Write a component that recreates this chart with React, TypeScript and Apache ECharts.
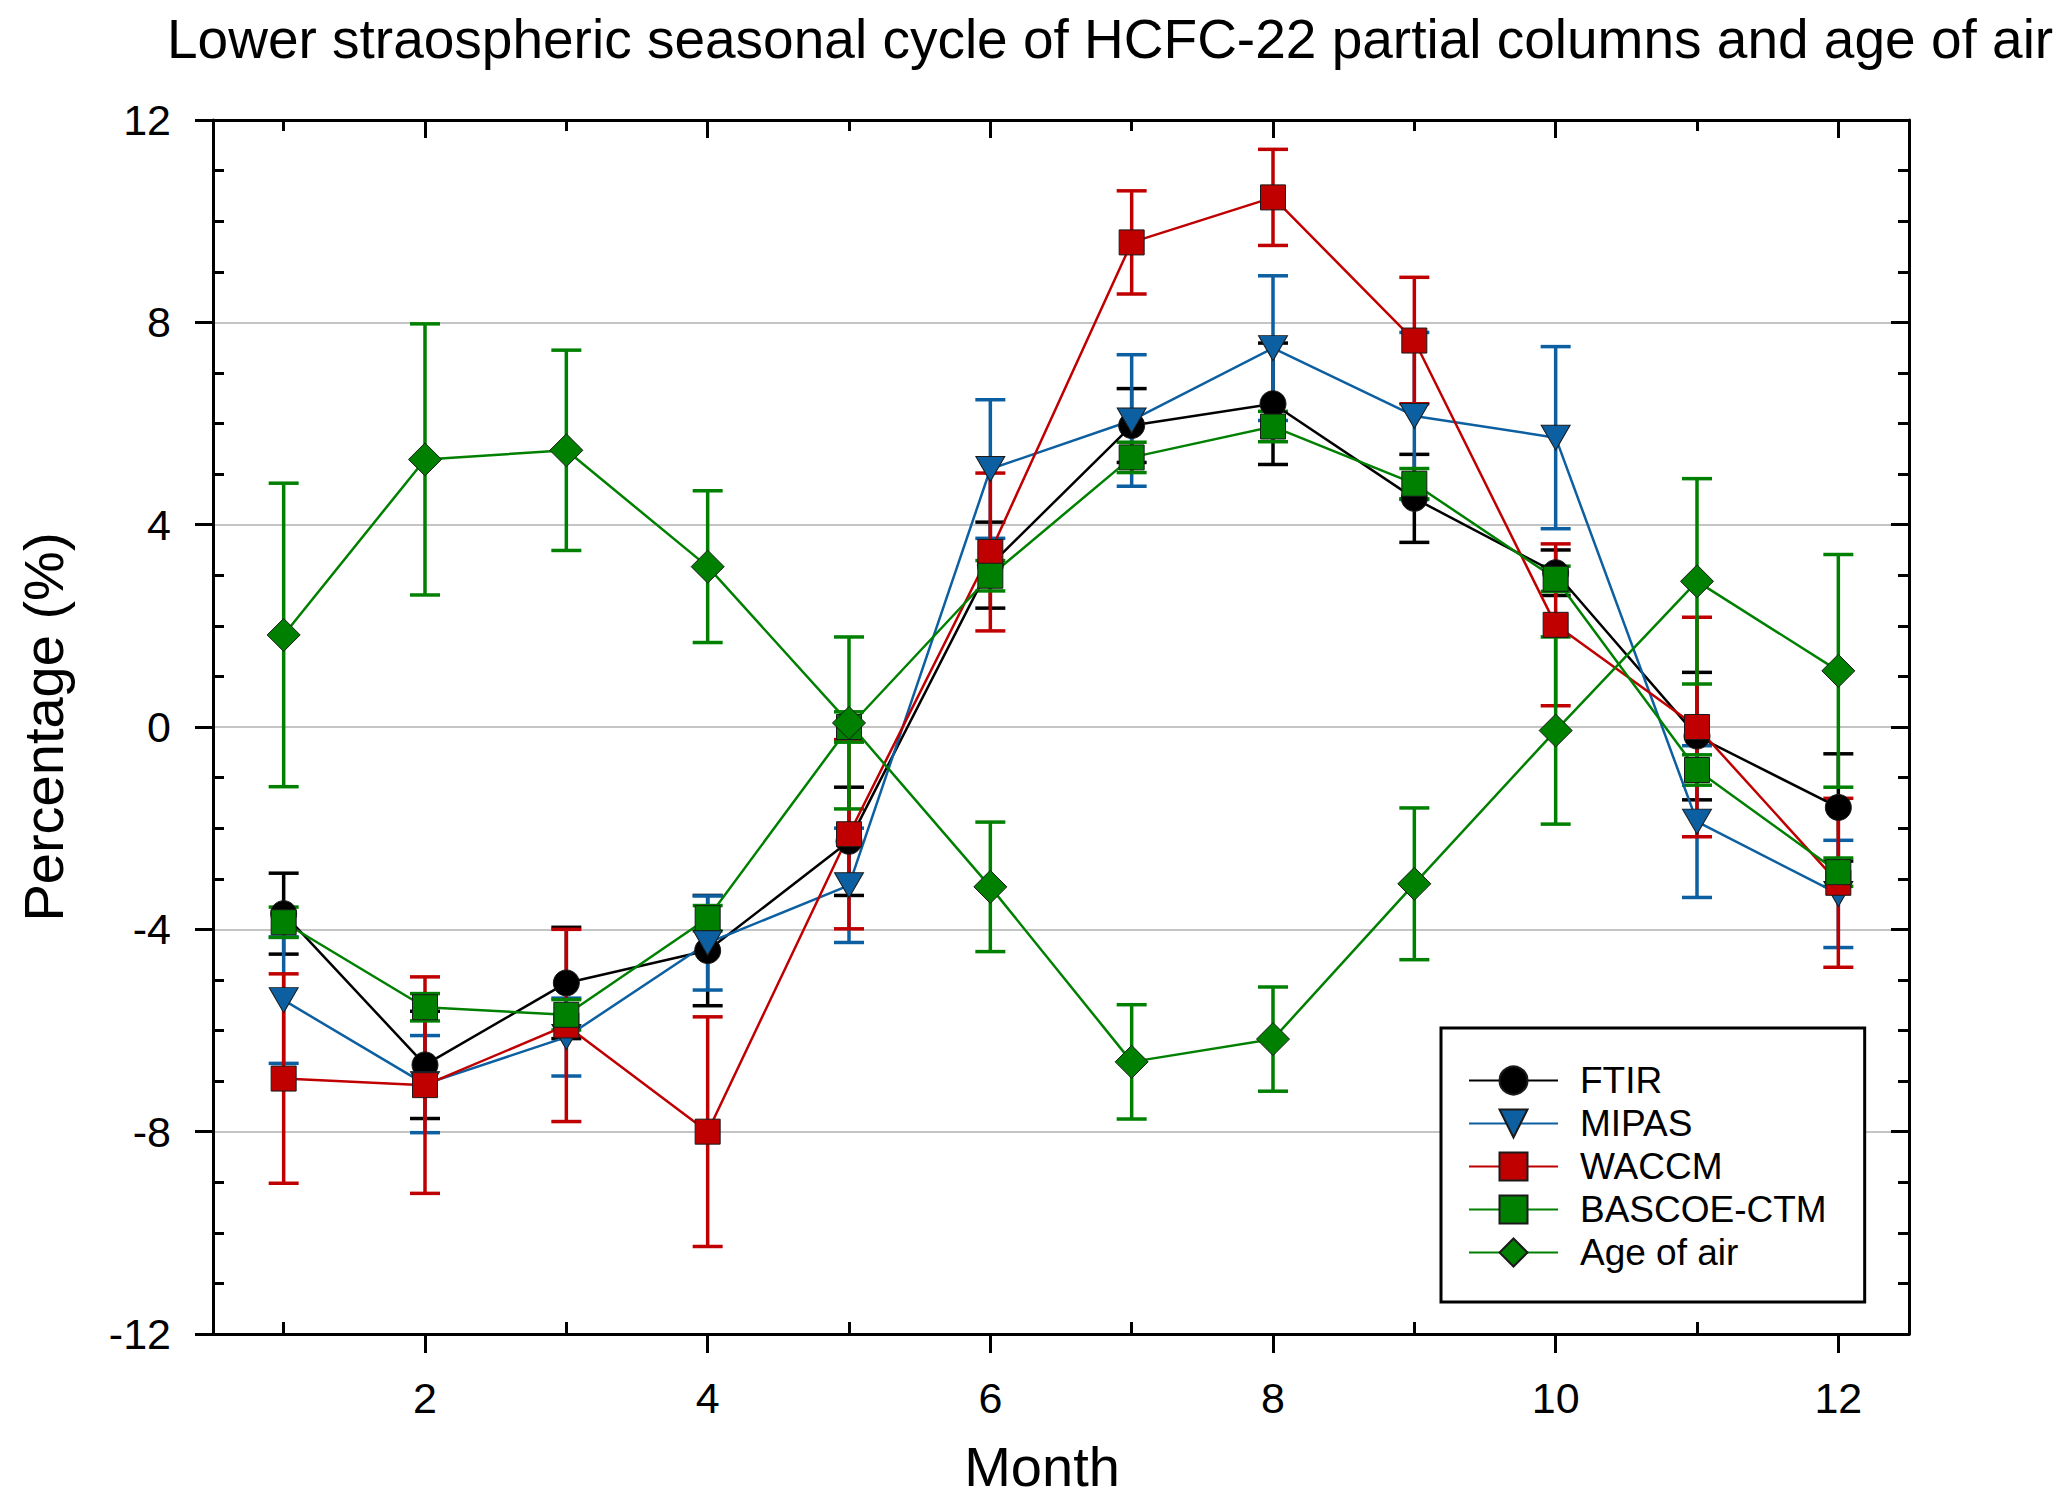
import { useEffect, useRef } from "react";
import * as echarts from "echarts";

const months = [1, 2, 3, 4, 5, 6, 7, 8, 9, 10, 11, 12];

const ftir = [-3.69, -6.68, -5.06, -4.42, -2.26, 3.2, 5.96, 6.39, 4.52, 3.05, -0.18, -1.59];
const ftirErr = [0.8, 1.06, 1.1, 1.09, 1.07, 0.85, 0.73, 1.2, 0.87, 0.45, 1.26, 1.06];

const mipas = [-5.4, -7.06, -6.13, -4.27, -3.13, 5.1, 6.06, 7.49, 6.15, 5.72, -1.87, -3.3];
const mipasErr = [1.25, 0.96, 0.77, 0.93, 1.13, 1.37, 1.3, 1.43, 1.65, 1.8, 1.5, 1.06];

const waccm = [-6.95, -7.08, -5.9, -8.0, -2.12, 3.46, 9.58, 10.47, 7.64, 2.02, 0.0, -3.08];
const waccmErr = [2.07, 2.14, 1.9, 2.27, 1.87, 1.56, 1.02, 0.95, 1.25, 1.6, 2.17, 1.67];

const bascoe = [-3.86, -5.54, -5.69, -3.78, 0.0, 2.99, 5.33, 5.94, 4.81, 2.93, -0.85, -2.87];
const bascoeErr = [0.3, 0.27, 0.3, 0.25, 0.3, 0.3, 0.3, 0.3, 0.3, 0.25, 0.3, 0.28];

const ageOfAir = [1.82, 5.29, 5.47, 3.17, 0.08, -3.16, -6.62, -6.17, -3.1, -0.07, 2.88, 1.11];
const ageOfAirErr = [3.0, 2.68, 1.98, 1.5, 1.7, 1.28, 1.13, 1.03, 1.5, 1.85, 2.03, 2.3];

const majorMonths = [2, 4, 6, 8, 10, 12];
const minorMonths = [1, 3, 5, 7, 9, 11];
const minorPercent = [-11, -10, -9, -7, -6, -5, -3, -2, -1, 1, 2, 3, 5, 6, 7, 9, 10, 11];

const FONT = "'Liberation Sans', Arial, sans-serif";

const errorRender = (color: string) => (params: any, api: any) => {
  const x = api.value(0);
  const top = api.coord([x, api.value(2)]);
  const bot = api.coord([x, api.value(1)]);
  const hw = 15;
  const style = { stroke: color, lineWidth: 3.5, fill: "none" };
  return {
    type: "group",
    children: [
      { type: "line", shape: { x1: top[0], y1: top[1], x2: bot[0], y2: bot[1] }, style },
      { type: "line", shape: { x1: top[0] - hw, y1: top[1], x2: top[0] + hw, y2: top[1] }, style },
      { type: "line", shape: { x1: bot[0] - hw, y1: bot[1], x2: bot[0] + hw, y2: bot[1] }, style },
    ],
  };
};

const App = () => {
  const chartRef = useRef<HTMLDivElement>(null);

  useEffect(() => {
    document.body.style.margin = "0";
    document.body.style.overflow = "hidden";
    if (!chartRef.current) return;
    const chart = echarts.init(chartRef.current, null, { renderer: "svg" });

    const defs = [
      { name: "FTIR", vals: ftir, errs: ftirErr, color: "#000000", symbol: "circle", size: 26, rotate: 0 },
      { name: "MIPAS", vals: mipas, errs: mipasErr, color: "#0c5fa0", symbol: "triangle", size: [29, 25], rotate: 180 },
      { name: "WACCM", vals: waccm, errs: waccmErr, color: "#c00000", symbol: "rect", size: 25, rotate: 0 },
      { name: "BASCOE-CTM", vals: bascoe, errs: bascoeErr, color: "#008000", symbol: "rect", size: 25, rotate: 0 },
      { name: "Age of air", vals: ageOfAir, errs: ageOfAirErr, color: "#008000", symbol: "diamond", size: 33, rotate: 0 },
    ];

    const series: any[] = [];
    defs.forEach((d) => {
      series.push({
        name: d.name + " error",
        type: "custom",
        renderItem: errorRender(d.color),
        encode: { x: 0, y: [1, 2] },
        data: months.map((m, i) => [m, d.vals[i] - d.errs[i], d.vals[i] + d.errs[i]]),
        silent: true,
      });
      series.push({
        name: d.name,
        type: "line",
        data: months.map((m, i) => [m, d.vals[i]]),
        symbol: d.symbol,
        symbolSize: d.size,
        symbolRotate: d.rotate,
        showAllSymbol: true,
        lineStyle: { color: d.color, width: 2.5 },
        itemStyle: { color: d.color, borderColor: "#1a1a1a", borderWidth: 1 },
      });
    });

    const axisLine = { show: true, onZero: false, lineStyle: { color: "#000", width: 3 } };
    const noLine = { show: false, onZero: false };
    const tickStyle = { color: "#000", width: 3 };

    const option = {
      animation: false,
      textStyle: { fontFamily: FONT },
      title: {
        text: "Lower straospheric seasonal cycle of HCFC-22 partial columns and age of air",
        left: 167,
        top: 11,
        padding: 0,
        textStyle: { fontSize: 55, fontWeight: "normal", color: "#000", fontFamily: FONT },
      },
      legend: {
        data: defs.map((d) => d.name),
        orient: "vertical",
        left: 1441,
        top: 1028,
        itemWidth: 89,
        itemHeight: 35,
        itemGap: 6,
        padding: [34, 38, 31, 27],
        borderColor: "#000",
        borderWidth: 3,
        backgroundColor: "#fff",
        textStyle: {
          fontSize: 37,
          lineHeight: 35,
          color: "#000",
          fontFamily: FONT,
          padding: [0, 0, 0, 17],
        },
      },
      grid: { left: 213, right: 158, top: 120, bottom: 172 },
      xAxis: [
        {
          type: "value",
          min: 0.5,
          max: 12.5,
          position: "bottom",
          name: "Month",
          nameLocation: "middle",
          nameGap: 104,
          nameTextStyle: { fontSize: 56, color: "#000", fontFamily: FONT, padding: [0, 38, 0, 0] },
          axisLine,
          axisTick: { show: true, inside: false, length: 19, lineStyle: tickStyle, customValues: majorMonths },
          axisLabel: { fontSize: 43, color: "#000", margin: 42, customValues: majorMonths },
          splitLine: { show: false },
        },
        {
          type: "value",
          min: 0.5,
          max: 12.5,
          position: "bottom",
          axisLine: noLine,
          axisTick: { show: true, inside: true, length: 12, lineStyle: tickStyle, customValues: minorMonths },
          axisLabel: { show: false },
          splitLine: { show: false },
        },
        {
          type: "value",
          min: 0.5,
          max: 12.5,
          position: "top",
          axisLine,
          axisTick: { show: true, inside: true, length: 18, lineStyle: tickStyle, customValues: majorMonths },
          axisLabel: { show: false },
          splitLine: { show: false },
        },
        {
          type: "value",
          min: 0.5,
          max: 12.5,
          position: "top",
          axisLine: noLine,
          axisTick: { show: true, inside: true, length: 11, lineStyle: tickStyle, customValues: minorMonths },
          axisLabel: { show: false },
          splitLine: { show: false },
        },
      ],
      yAxis: [
        {
          type: "value",
          min: -12,
          max: 12,
          interval: 4,
          position: "left",
          name: "Percentage (%)",
          nameLocation: "middle",
          nameGap: 142,
          nameTextStyle: { fontSize: 56, color: "#000", fontFamily: FONT },
          axisLine,
          axisTick: { show: true, inside: false, length: 18, lineStyle: tickStyle },
          axisLabel: { fontSize: 43, color: "#000", margin: 42 },
          splitLine: { show: true, lineStyle: { color: "#c4c4c4", width: 2 } },
        },
        {
          type: "value",
          min: -12,
          max: 12,
          position: "left",
          axisLine: noLine,
          axisTick: { show: true, inside: true, length: 11, lineStyle: tickStyle, customValues: minorPercent },
          axisLabel: { show: false },
          splitLine: { show: false },
        },
        {
          type: "value",
          min: -12,
          max: 12,
          interval: 4,
          position: "right",
          axisLine,
          axisTick: { show: true, inside: true, length: 18, lineStyle: tickStyle },
          axisLabel: { show: false },
          splitLine: { show: false },
        },
        {
          type: "value",
          min: -12,
          max: 12,
          position: "right",
          axisLine: noLine,
          axisTick: { show: true, inside: true, length: 11, lineStyle: tickStyle, customValues: minorPercent },
          axisLabel: { show: false },
          splitLine: { show: false },
        },
      ],
      series,
    };

    chart.setOption(option);

    return () => {
      chart.dispose();
    };
  }, []);

  return <div ref={chartRef} style={{ width: 2067, height: 1506, background: "#fff" }} />;
};

export default App;
